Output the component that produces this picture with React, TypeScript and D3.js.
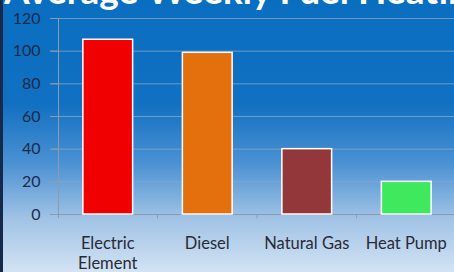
import React, { useEffect, useRef } from "react";
import * as d3 from "d3";

const categories = ["Electric Element", "Diesel", "Natural Gas", "Heat Pump"];
const values = [107, 99, 40, 20];
const barColors = ["#f00000", "#e3700c", "#94373a", "#3fe95e"];
const yTicks = [0, 20, 40, 60, 80, 100, 120];
const title = "Average Weekly Fuel Heating Cost";

const App = () => {
  const chartRef = useRef<SVGSVGElement>(null);

  useEffect(() => {
    const width = 454;
    const height = 272;
    const margin = { left: 58, right: -2, top: 18, bottom: 58 };

    const svg = d3.select(chartRef.current);
    svg.selectAll("*").remove();

    // background gradient
    const defs = svg.append("defs");
    const grad = defs
      .append("linearGradient")
      .attr("id", "bg")
      .attr("x1", 0)
      .attr("y1", 0)
      .attr("x2", 0)
      .attr("y2", 1);
    [
      [0, "#0a6ec0"],
      [0.38, "#1170c1"],
      [0.6, "#4b91d3"],
      [0.8, "#9fc2e5"],
      [1, "#d3e3f3"],
    ].forEach(([o, c]) => {
      grad.append("stop").attr("offset", o as number).attr("stop-color", c as string);
    });
    svg.append("rect").attr("width", width).attr("height", height).attr("fill", "url(#bg)");
    svg.append("rect").attr("width", 3).attr("height", height).attr("fill", "#15294a");

    // title (cut off at the top, as in the slide)
    svg
      .append("text")
      .attr("x", 4)
      .attr("y", 4)
      .attr("fill", "#ffffff")
      .attr("font-family", "Lato, sans-serif")
      .attr("font-weight", "bold")
      .attr("font-size", 37)
      .text(title);

    const x = d3
      .scaleBand()
      .domain(categories)
      .range([margin.left, width - margin.right])
      .paddingInner(0.5)
      .paddingOuter(0.25);

    const y = d3
      .scaleLinear()
      .domain([0, 120])
      .range([height - margin.bottom, margin.top]);

    // gridlines
    svg
      .append("g")
      .selectAll("line")
      .data(yTicks.filter((t) => t > 0))
      .enter()
      .append("line")
      .attr("x1", 50)
      .attr("x2", width)
      .attr("y1", (d) => y(d) + 0.5)
      .attr("y2", (d) => y(d) + 0.5)
      .attr("stroke", "#8aa8c8")
      .attr("stroke-opacity", 0.75)
      .attr("stroke-width", 1);

    // y axis
    const yAxis = svg
      .append("g")
      .attr("transform", `translate(${margin.left + 0.5},0)`)
      .call(d3.axisLeft(y).tickValues(yTicks).tickSize(8).tickPadding(10));
    yAxis.select(".domain").attr("stroke", "#8c9cae").attr("d", `M0,${y(120)}V${y(0) + 4}`);
    yAxis.selectAll(".tick line").attr("stroke", "#8c9cae");
    yAxis
      .selectAll(".tick text")
      .attr("fill", "#1b2b4a")
      .attr("font-family", "Lato, sans-serif")
      .attr("font-size", 16);

    // x axis baseline + ticks between categories
    const base = y(0) + 0.5;
    svg
      .append("line")
      .attr("x1", 50)
      .attr("x2", width)
      .attr("y1", base)
      .attr("y2", base)
      .attr("stroke", "#8c9cae");
    const step = x.step();
    svg
      .append("g")
      .selectAll("line")
      .data(categories.slice(1))
      .enter()
      .append("line")
      .attr("x1", (d) => (x(d) as number) - (step - x.bandwidth()) / 2)
      .attr("x2", (d) => (x(d) as number) - (step - x.bandwidth()) / 2)
      .attr("y1", base)
      .attr("y2", base + 4)
      .attr("stroke", "#8c9cae");

    // bars
    svg
      .append("g")
      .selectAll("rect")
      .data(values)
      .enter()
      .append("rect")
      .attr("x", (d, i) => x(categories[i]) as number)
      .attr("y", (d) => y(d))
      .attr("width", x.bandwidth())
      .attr("height", (d) => y(0) - y(d))
      .attr("fill", (d, i) => barColors[i])
      .attr("stroke", "#ffffff")
      .attr("stroke-width", 1.5);

    // category labels
    const labels = svg
      .append("g")
      .selectAll("text")
      .data(categories)
      .enter()
      .append("text")
      .attr("x", (d) => (x(d) as number) + x.bandwidth() / 2)
      .attr("y", 249)
      .attr("text-anchor", "middle")
      .attr("fill", "#2a2a36")
      .attr("font-family", "Lato, sans-serif")
      .attr("font-size", 16.5);
    labels.each(function (d) {
      const words = d === "Electric Element" ? ["Electric", "Element"] : [d];
      words.forEach((w, i) => {
        d3.select(this)
          .append("tspan")
          .attr("x", (x(d) as number) + x.bandwidth() / 2)
          .attr("dy", i === 0 ? 0 : 20)
          .text(w);
      });
    });
  }, []);

  return (
    <svg
      ref={chartRef}
      width={454}
      height={272}
      style={{ position: "fixed", left: 0, top: 0, display: "block" }}
    />
  );
};

export default App;
